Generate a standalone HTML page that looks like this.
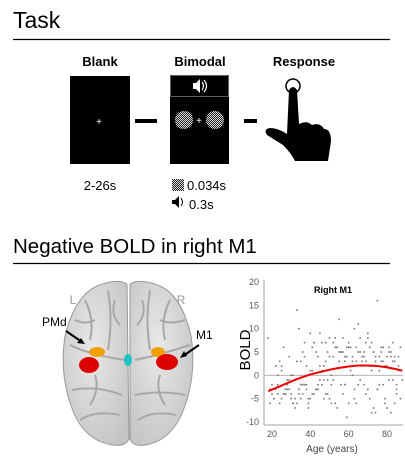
<!DOCTYPE html>
<html><head><meta charset="utf-8"><style>
body{margin:0;width:405px;height:461px;background:#fff;overflow:hidden;font-family:"Liberation Sans",Arial,sans-serif}
svg{position:absolute;left:0;top:0}
</style></head><body>
<svg width="405" height="461" viewBox="0 0 405 461">
<defs>
<pattern id="chk" width="2" height="2" patternUnits="userSpaceOnUse"><rect width="2" height="2" fill="#222"/><rect width="1" height="1" fill="#ddd"/><rect x="1" y="1" width="1" height="1" fill="#ddd"/></pattern>
<radialGradient id="brainG" cx="0.45" cy="0.4" r="0.7"><stop offset="0" stop-color="#e8e8e8"/><stop offset="1" stop-color="#c4c4c4"/></radialGradient>
</defs>
<g>
<text x="13" y="28" font-size="23">Task</text>
<line x1="13" y1="39.5" x2="390" y2="39.5" stroke="#000" stroke-width="1.2"/>
<text x="100" y="66" font-size="13" font-weight="bold" text-anchor="middle">Blank</text>
<rect x="70" y="76" width="60" height="88" fill="#000"/>
<text x="99" y="125" font-size="10" fill="#fff" text-anchor="middle">+</text>
<rect x="135" y="119" width="22" height="4" fill="#000"/>
<text x="200" y="66" font-size="13" font-weight="bold" text-anchor="middle">Bimodal</text>
<rect x="170" y="75" width="59" height="89" fill="#000"/>
<rect x="170.5" y="75.5" width="58" height="21" fill="none" stroke="#bbb" stroke-dasharray="1 1"/>
<g><path d="M193 83h3l4-4v14l-4-4h-3z" fill="#fff"/><path d="M202 82q3 4 0 8M204 80q5 6 0 12" stroke="#fff" fill="none" stroke-width="1.2"/></g>
<circle cx="184" cy="120" r="9" fill="url(#chk)"/>
<circle cx="215" cy="120" r="9" fill="url(#chk)"/>
<text x="199" y="124" font-size="10" fill="#fff" text-anchor="middle">+</text>
<rect x="244" y="119" width="13" height="4" fill="#000"/>
<text x="304" y="66" font-size="13" font-weight="bold" text-anchor="middle">Response</text>
<g>
<circle cx="293" cy="86" r="7" fill="none" stroke="#000" stroke-width="1.5"/>
<path d="M289 90q4-6 8 0l2 34q8-4 13 1q8-3 12 4q7 0 7 12l-3 20h-33q-4-8-12-16l-16-10q-4-6 3-7q8 0 17 6z" fill="#000"/>
</g>
<text x="100" y="190" font-size="13" text-anchor="middle">2-26s</text>
<g><rect x="172" y="179" width="12" height="12" fill="url(#chk)"/></g>
<text x="187" y="190" font-size="13">0.034s</text>
<g><path d="M172 200h3l4-4v12l-4-4h-3z" fill="#000"/><path d="M181 198q3 4 0 8" stroke="#000" fill="none"/></g>
<text x="189" y="209" font-size="13">0.3s</text>
</g>
<g>
<text x="13" y="253" font-size="20.5">Negative BOLD in right M1</text>
<line x1="13" y1="263.5" x2="390" y2="263.5" stroke="#000" stroke-width="1.2"/>
</g>
<g>
<path d="M127 284q-10-6-30 2q-22 10-32 50q-6 40 8 75q12 30 40 34q12 2 16-6z" fill="url(#brainG)" stroke="#999"/>
<path d="M130 284q10-6 30 2q22 10 31 50q6 40-8 75q-12 30-38 34q-12 2-15-6z" fill="url(#brainG)" stroke="#999"/>
<g stroke="#a8a8a8" fill="none" stroke-width="2">
<path d="M70 345q20 10 55 15M72 390q25-5 50 5M85 300q10 20 5 40M108 290q5 30 0 60M80 420q15-10 40-5M135 360q25-5 55-15M135 395q25-5 50 0M170 300q-10 20-5 40M150 290q-5 30 0 60M138 420q15-10 38-5M75 320q10 5 20 0M160 320q10 5 25 0M95 375q5 15-5 30M160 375q-5 15 5 30M115 300q-5 15 5 25M142 300q5 15-5 25"/>
</g>
<ellipse cx="97" cy="352" rx="8" ry="5" fill="#f0a000"/>
<ellipse cx="89" cy="365" rx="10" ry="8" fill="#dd0000"/>
<ellipse cx="158" cy="352" rx="7" ry="5" fill="#f0a000"/>
<ellipse cx="167" cy="362" rx="11" ry="8" fill="#dd0000"/>
<ellipse cx="128" cy="360" rx="4" ry="6" fill="#20c0c8"/>
<text x="73" y="304" font-size="12" fill="#999" text-anchor="middle">L</text>
<text x="181" y="304" font-size="12" fill="#999" text-anchor="middle">R</text>
<text x="42" y="326" font-size="12">PMd</text>
<path d="M66 331L82 342" stroke="#000" stroke-width="2"/><path d="M85 344l-8-1 4-5z" fill="#000"/>
<text x="196" y="339" font-size="12">M1</text>
<path d="M199 345L183 356" stroke="#000" stroke-width="2"/><path d="M180 358l4-7 3 5z" fill="#000"/>
</g>
<g id="chart"></g>
</svg>
<script>
const yTicks=[20,15,10,5,0,-5,-10];
const xTicks=[20,40,60,80];
const ages=[18,19,20,21,22,23,24,25,26,27,28,29,30,31,32,33,34,35,36,37,38,39,40,41,42,43,44,45,46,47,48,49,50,51,52,53,54,55,56,57,58,59,60,61,62,63,64,65,66,67,68,69,70,71,72,73,74,75,76,77,78,79,80,81,82,83,84,85,86,87,
19,21,23,25,27,29,31,33,35,37,39,41,43,45,47,49,51,53,55,57,59,61,63,65,67,69,71,73,75,77,79,81,83,85,87,
20,24,28,32,36,40,44,48,52,56,60,64,68,72,76,80,84,88,22,30,38,46,54,62,70,78,86,34,42,50,58,66,74,82,
23,26,29,32,35,38,41,44,47,50,53,56,59,62,65,68,71,74,77,80,83,86,
25,28,31,34,37,40,43,46,49,52,55,58,61,64,67,70,73,76,79,82,85,
27,33,39,45,51,57,63,69,75,81,36,42,48,54,60,66,72,78,84,30,44,58,72];
const bold=[8,-6,-2,-5,2,-4,-6,1,6,-3,-1,4,-5,0,-7,14,-3,3,-4,7,-2,-6,9,1,-4,5,-3,2,7,-5,3,-1,8,0,4,-6,6,12,-2,5,3,-9,7,1,4,-3,6,11,-1,3,5,-4,8,2,7,-7,4,16,-2,3,6,-5,2,5,-8,-1,4,-3,1,6,
-3,-5,0,2,-4,-1,-6,3,-2,4,-7,6,-3,9,2,5,-6,8,3,-4,6,2,10,-2,4,7,-5,5,-3,6,2,-1,7,-4,-5,
-4,3,-2,-5,5,1,-3,7,-1,5,-6,3,-2,1,4,-7,3,-1,-3,-4,2,-2,6,0,9,-2,4,10,7,-5,4,8,-8,5,
-2,-4,-3,-1,-5,-3,-4,-2,-1,4,6,5,4,3,5,4,6,3,5,4,3,2,
-5,-3,-6,-4,-2,-5,-3,1,-4,7,5,-2,6,-6,2,-3,5,1,-6,4,-2,
-4,-6,-5,-1,-2,8,-5,3,-3,6,-2,7,-4,-7,6,5,-8,3,-6,0,4,-2,1];
const fitAges=[18,25,30,35,40,45,50,55,60,65,70,75,80,85,88];
const fitVals=[-3.4,-2.2,-1.3,-0.5,0.2,0.7,1.2,1.6,1.9,2.1,2.1,2.0,1.7,1.3,1.0];
const NS='http://www.w3.org/2000/svg';
const g=document.getElementById('chart');
const X0=264,X1=403,Y0=282,Y1=422;
const sx=a=>272+(a-20)*(387-272)/60;
const sy=v=>Y0+(20-v)*(Y1-Y0)/30;
function mk(t,a){const e=document.createElementNS(NS,t);for(const k in a)e.setAttribute(k,a[k]);g.appendChild(e);return e;}
let e=mk('line',{x1:X0,y1:Y0-2,x2:X0,y2:Y1+3,stroke:'#888','stroke-width':0.8});


e=mk('line',{x1:X0,y1:Y1+3,x2:X1,y2:Y1+3,stroke:'#888','stroke-width':0.8});


e=mk('line',{x1:X0,y1:sy(0),x2:X1,y2:sy(0),stroke:'#aaa','stroke-width':0.8});


yTicks.forEach(v=>{const t=mk('text',{x:X0-5,y:sy(v)+3,'font-size':9,fill:'#555','text-anchor':'end'});t.textContent=v;

});
xTicks.forEach(v=>{const t=mk('text',{x:sx(v),y:Y1+15,'font-size':9,fill:'#555','text-anchor':'middle'});t.textContent=v;

});
ages.forEach((a,i)=>{const r=mk('rect',{x:sx(a)-0.8,y:sy(bold[i])-0.8,width:1.6,height:1.6,fill:'#777'});

});
const p=mk('polyline',{points:fitAges.map((a,i)=>sx(a)+','+sy(fitVals[i])).join(' '),fill:'none',stroke:'#e00','stroke-width':2});


let t=mk('text',{x:333,y:293,'font-size':9,'font-weight':'bold','text-anchor':'middle'});t.textContent='Right M1';


t=mk('text',{x:332,y:452,'font-size':10,fill:'#444','text-anchor':'middle'});t.textContent='Age (years)';


t=mk('text',{x:250,y:350,'font-size':15,'text-anchor':'middle',transform:'rotate(-90 250 350)'});t.textContent='BOLD';


</script>
</body></html>
